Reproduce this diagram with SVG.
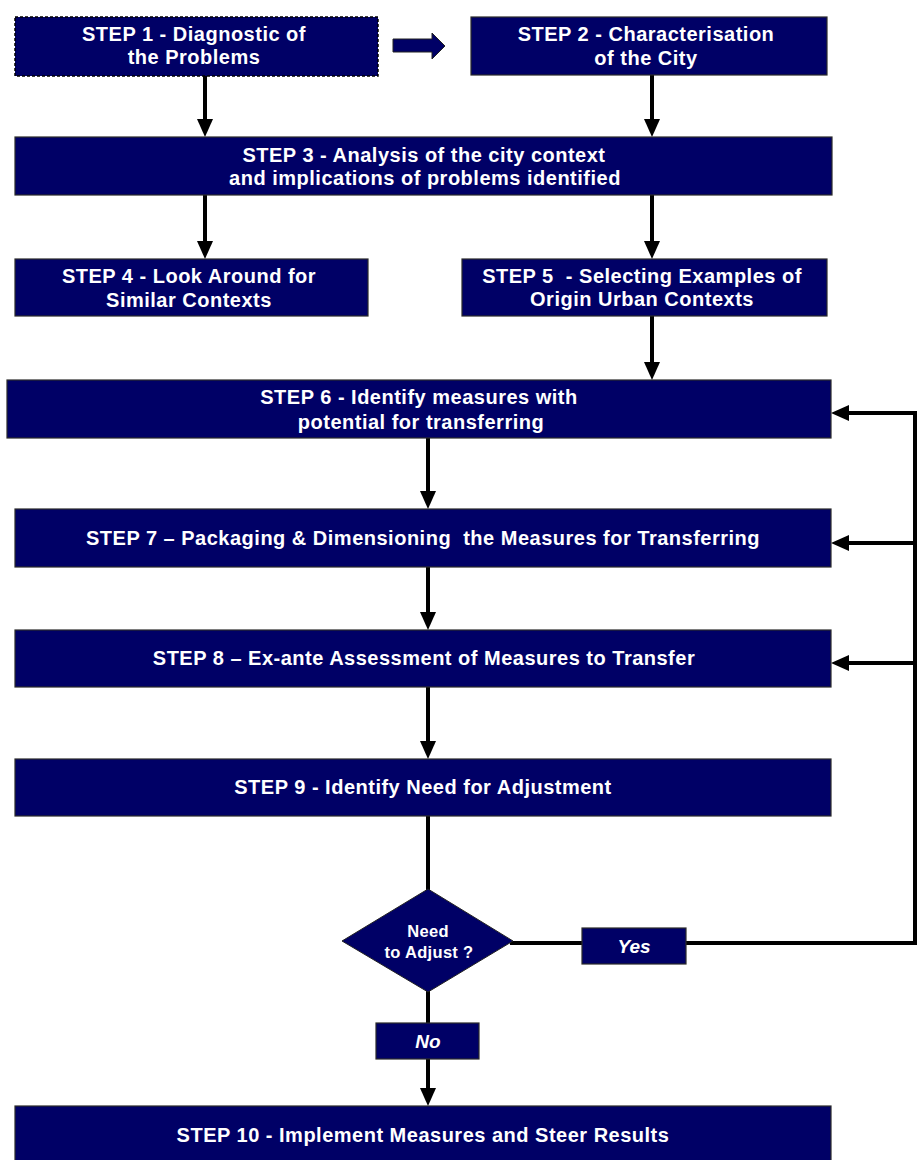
<svg xmlns="http://www.w3.org/2000/svg" width="923" height="1160" viewBox="0 0 923 1160">
<style>
.box{fill:#000066;stroke:#2a2a2a;stroke-width:1.2}
.t{font-family:"Liberation Sans",Arial,sans-serif;font-weight:bold;font-size:20px;letter-spacing:0.5px;fill:#ffffff;text-anchor:middle;white-space:pre}
.ts{font-size:16.5px;letter-spacing:0.3px}
.ti{font-style:italic;font-size:19px;letter-spacing:0}
.ln{fill:none;stroke:#000;stroke-width:4}
</style>
<defs>
<marker id="ah" markerUnits="userSpaceOnUse" markerWidth="18" markerHeight="16" refX="4" refY="8" orient="auto">
<path d="M0,0 L18,8 L0,16 Z" fill="#000"/>
</marker>
</defs>
<rect width="923" height="1160" fill="#ffffff"/>
<g id="connectors">
<line class="ln" x1="205" y1="76" x2="205" y2="123" marker-end="url(#ah)"/>
<line class="ln" x1="652" y1="75" x2="652" y2="123" marker-end="url(#ah)"/>
<line class="ln" x1="205" y1="195" x2="205" y2="245" marker-end="url(#ah)"/>
<line class="ln" x1="652" y1="195" x2="652" y2="245" marker-end="url(#ah)"/>
<line class="ln" x1="652" y1="316" x2="652" y2="366" marker-end="url(#ah)"/>
<line class="ln" x1="428" y1="438" x2="428" y2="495" marker-end="url(#ah)"/>
<line class="ln" x1="428" y1="567" x2="428" y2="616" marker-end="url(#ah)"/>
<line class="ln" x1="428" y1="687" x2="428" y2="745" marker-end="url(#ah)"/>
<line class="ln" x1="428" y1="816" x2="428" y2="892"/>
<line class="ln" x1="428" y1="990" x2="428" y2="1092" marker-end="url(#ah)"/>
<polyline class="ln" points="510,943 915,943 915,413 845,413" marker-end="url(#ah)"/>
<line class="ln" x1="915" y1="543" x2="845" y2="543" marker-end="url(#ah)"/>
<line class="ln" x1="915" y1="663" x2="845" y2="663" marker-end="url(#ah)"/>
<path d="M393,39 H432 V33 L445,46 L432,59 V52 H393 Z" fill="#000066" stroke="#222" stroke-width="1"/>
</g>
<g id="step1">
<rect class="box" x="15" y="17" width="363" height="59" style="stroke:#000;stroke-width:1.5;stroke-dasharray:3 2"/>
<text class="t" x="194" y="41">STEP 1 - Diagnostic of</text>
<text class="t" x="194" y="64">the Problems</text>
</g>
<g id="step2">
<rect class="box" x="471" y="17" width="356" height="58"/>
<text class="t" x="646" y="41">STEP 2 - Characterisation</text>
<text class="t" x="646" y="65">of the City</text>
</g>
<g id="step3">
<rect class="box" x="15" y="137" width="817" height="58"/>
<text class="t" x="424" y="162">STEP 3 - Analysis of the city context</text>
<text class="t" x="425" y="185">and implications of problems identified</text>
</g>
<g id="step4">
<rect class="box" x="15" y="259" width="353" height="57"/>
<text class="t" x="189" y="283">STEP 4 - Look Around for</text>
<text class="t" x="189" y="307">Similar Contexts</text>
</g>
<g id="step5">
<rect class="box" x="462" y="259" width="365" height="57"/>
<text class="t" x="642" y="283">STEP 5  - Selecting Examples of</text>
<text class="t" x="642" y="306">Origin Urban Contexts</text>
</g>
<g id="step6">
<rect class="box" x="7" y="380" width="824" height="58"/>
<text class="t" x="419" y="404">STEP 6 - Identify measures with</text>
<text class="t" x="421" y="429">potential for transferring</text>
</g>
<g id="step7">
<rect class="box" x="15" y="509" width="816" height="58"/>
<text class="t" x="423" y="545">STEP 7 – Packaging &amp; Dimensioning  the Measures for Transferring</text>
</g>
<g id="step8">
<rect class="box" x="15" y="630" width="816" height="57"/>
<text class="t" x="424" y="665">STEP 8 – Ex-ante Assessment of Measures to Transfer</text>
</g>
<g id="step9">
<rect class="box" x="15" y="759" width="816" height="57"/>
<text class="t" x="423" y="794">STEP 9 - Identify Need for Adjustment</text>
</g>
<g id="decision">
<polygon points="428,889 513,941 428,992 342,941" fill="#000066" stroke="#222" stroke-width="1"/>
<text class="t ts" x="428" y="937">Need</text>
<text class="t ts" x="429" y="958">to Adjust ?</text>
</g>
<g id="yes">
<rect class="box" x="582" y="928" width="104" height="36"/>
<text class="t ti" x="634" y="953">Yes</text>
</g>
<g id="no">
<rect class="box" x="376" y="1023" width="103" height="36"/>
<text class="t ti" x="428" y="1048">No</text>
</g>
<g id="step10">
<rect class="box" x="15" y="1106" width="816" height="60"/>
<text class="t" x="423" y="1142">STEP 10 - Implement Measures and Steer Results</text>
</g>
</svg>
